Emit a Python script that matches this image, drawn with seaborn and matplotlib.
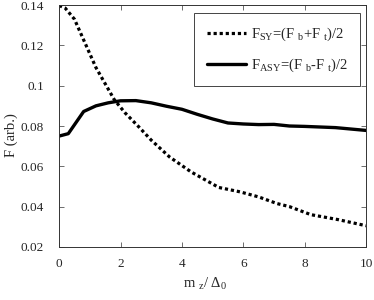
import numpy as np
import pandas as pd
import matplotlib
matplotlib.use("Agg")
import matplotlib.pyplot as plt
import seaborn as sns
from matplotlib.ticker import FormatStrFormatter

# symmetric part
mz_sy = [0, 0.2, 0.5, 0.85, 1.2, 1.5, 1.8, 2.15, 2.6, 3.0, 3.6, 4.3,
         5.2, 5.9, 6.5, 7.1, 7.5, 8.2, 9.1, 10]
f_sy = [0.1398, 0.1385, 0.133, 0.121, 0.109, 0.101, 0.093, 0.0865, 0.0795,
        0.073, 0.0646, 0.0572, 0.0495, 0.0473, 0.0448, 0.0415, 0.0400,
        0.0360, 0.0335, 0.0305]

# antisymmetric part, solid curve
mz_asy = [0, 0.3, 0.8, 1.2, 1.6, 2.0, 2.5, 3.0, 3.5, 4.0, 4.5, 5.0, 5.5,
          6.0, 6.5, 7.0, 7.5, 8.0, 9.0, 10]
f_asy = [0.075, 0.0762, 0.0872, 0.0900, 0.0915, 0.0925, 0.0926, 0.0915,
         0.0898, 0.0883, 0.0858, 0.0835, 0.0815, 0.0810, 0.0807, 0.0808,
         0.0800, 0.0798, 0.0792, 0.0778]

x_ticks = [0, 2, 4, 6, 8, 10]
y_ticks = [0.02, 0.04, 0.06, 0.08, 0.1, 0.12, 0.14]

sy_label = r"F$_{\rm SY}$=(F $_{\rm b}$+F $_{\rm t}$)/2"
asy_label = r"F$_{\rm ASY}$=(F $_{\rm b}$-F $_{\rm t}$)/2"

sns.set_style("ticks")
plt.rcParams["font.family"] = ["Liberation Serif", "DejaVu Serif"]
plt.rcParams["mathtext.fontset"] = "custom"
plt.rcParams["mathtext.rm"] = "Liberation Serif"
plt.rcParams["mathtext.it"] = "Liberation Serif:italic"
plt.rcParams["font.size"] = 9.5

df_sy = pd.DataFrame({"mz": mz_sy, "F": f_sy})
df_asy = pd.DataFrame({"mz": mz_asy, "F": f_asy})

fig, ax = plt.subplots(figsize=(3.74, 3.0), dpi=100)
fig.subplots_adjust(left=0.158, right=0.979, top=0.983, bottom=0.177)

sns.lineplot(data=df_sy, x="mz", y="F", ax=ax, color="black", lw=2.3,
             linestyle=(0, (1, 0.9)), label=sy_label)
sns.lineplot(data=df_asy, x="mz", y="F", ax=ax, color="black", lw=2.4,
             label=asy_label)

ax.set_xlim(0, 10)
ax.set_ylim(0.02, 0.14)
ax.set_xticks(x_ticks)
ax.set_yticks(y_ticks)
ax.yaxis.set_major_formatter(FormatStrFormatter("%g"))
ax.tick_params(direction="in", top=True, right=True, length=3.5,
               width=0.6, color="#555555", labelsize=9.5)
ax.tick_params(axis="y", pad=11)
ax.tick_params(axis="x", pad=8)
for s in ax.spines.values():
    s.set_linewidth(0.7)
    s.set_color("#333333")

ax.set_xlabel(r"m $_{\rm z}$/ $\Delta_{0}$", fontsize=10.5)
ax.set_ylabel("F (arb.)", fontsize=10.5)
ax.xaxis.set_label_coords(0.475, -0.12)
ax.yaxis.set_label_coords(-0.134, 0.463)

leg = ax.legend(loc="upper right", bbox_to_anchor=(0.98, 0.967),
                borderaxespad=0, fancybox=False, framealpha=1,
                edgecolor="#444444", handlelength=2.7, fontsize=10.5,
                labelspacing=0.95, borderpad=0.85, handletextpad=0.3)
leg.get_frame().set_linewidth(0.7)

fig.savefig("out.png", dpi=100)
